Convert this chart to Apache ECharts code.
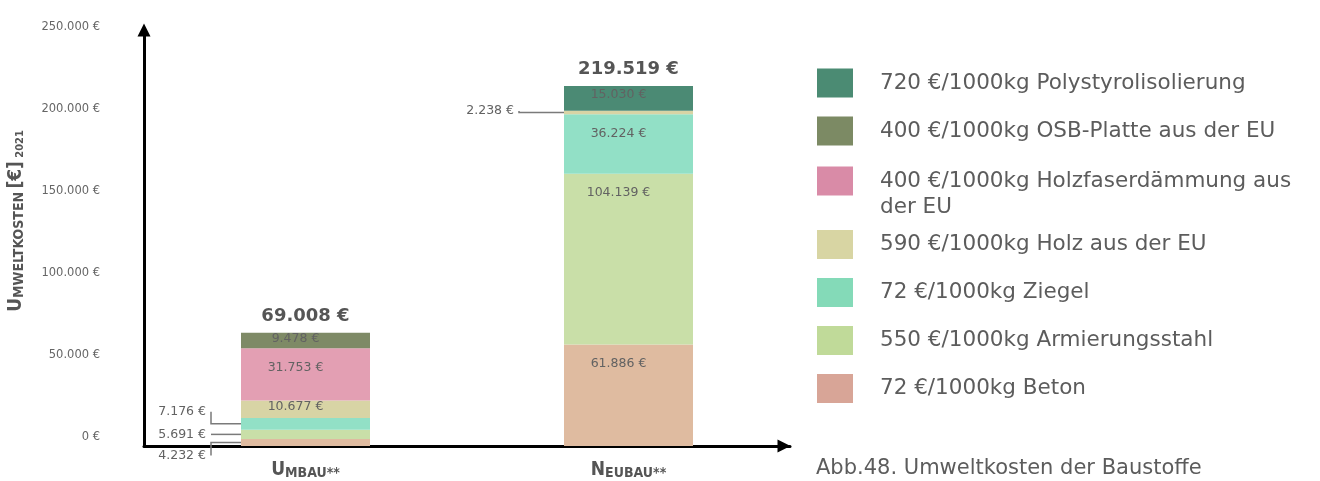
<!DOCTYPE html>
<html>
<head>
<meta charset="utf-8">
<script src="https://cdn.jsdelivr.net/npm/echarts@6/dist/echarts.min.js"></script>
<style>
  html, body { margin: 0; padding: 0; background: #ffffff; }
  #chart { width: 1320px; height: 481px; }
</style>
</head>
<body>
<div id="chart"></div>
<script>
// Building variants on the category axis
const categories = ['Umbau**', 'Neubau**'];

// Material series, stacked from the bottom up
const seriesNames = [
  '72 €/1000kg Beton',
  '550 €/1000kg Armierungsstahl',
  '72 €/1000kg Ziegel',
  '590 €/1000kg Holz aus der EU',
  '400 €/1000kg Holzfaserdämmung aus der EU',
  '400 €/1000kg OSB-Platte aus der EU',
  '720 €/1000kg Polystyrolisolierung'
];

// Environmental costs in € (Umbau, Neubau)
const beton = [4232, 61886];
const armierungsstahl = [5691, 104139];
const ziegel = [7176, 36224];
const holz = [10677, 2238];
const holzfaser = [31753, 0];
const osb = [9478, 0];
const polystyrol = [0, 15030];

// Printed totals above each column
const totals = [69008, 219519];

// Value axis range
const yMin = 0;
const yMax = 250000;
const yStep = 50000;

const legendColors = ['#d8a597', '#c0da99', '#84dab8', '#d8d5a3', '#d98ba7', '#7c8a64', '#4b8b73'];
const barColors = ['#dfbba0', '#c9dfa8', '#92e0c6', '#d8d4a5', '#e39fb3', '#7e8a66', '#4b8a74'];

const stackValues = [beton, armierungsstahl, ziegel, holz, holzfaser, osb, polystyrol];

const barWidth = 129;
const textFont = "'DejaVu Sans', sans-serif";
const capsFont = "'DejaVu Sans Condensed', 'Liberation Sans Narrow', 'DejaVu Sans', sans-serif";

// German thousands separator
function fmt(v) {
  return String(v).replace(/\B(?=(\d{3})+(?!\d))/g, '.') + ' €';
}

// Small segments get their value beside the column with a leader line
// key: seriesIndex-dataIndex, dy = label shift from segment centre, gap = leader length
const sideLabels = {
  '2-0': { dy: -12, gap: 30 },
  '1-0': { dy: 0, gap: 30 },
  '0-0': { dy: 13, gap: 30 },
  '3-1': { dy: -1.5, gap: 45 }
};

function layoutLabel(p) {
  const r = p.rect;
  const side = sideLabels[p.seriesIndex + '-' + p.dataIndex];
  if (side) {
    const cy = r.y + r.height / 2;
    return {
      x: r.x - side.gap - 5,
      y: cy + side.dy,
      align: 'right',
      verticalAlign: 'middle'
    };
  }
  const drop = r.height < 30 ? r.height * 0.36 : 19.5;
  return {
    x: r.x + r.width / 2 - 10,
    y: r.y + drop,
    align: 'center',
    verticalAlign: 'middle'
  };
}

const barSeries = stackValues.map((vals, si) => ({
  name: seriesNames[si],
  type: 'bar',
  stack: 'kosten',
  barWidth: barWidth,
  itemStyle: { color: legendColors[si] },
  emphasis: { disabled: true },
  label: {
    show: true,
    position: 'inside',
    formatter: p => (p.value ? fmt(p.value) : ''),
    fontSize: 12.5,
    color: '#626262',
    fontFamily: textFont
  },
  labelLayout: layoutLabel,
  data: vals.map(v => ({ value: v, itemStyle: { color: barColors[si] } }))
}));

// Leader lines: [category, segment bottom, segment top, dy, gap]
const leaderData = Object.keys(sideLabels).map(key => {
  const [si, di] = key.split('-').map(Number);
  let lo = 0;
  for (let k = 0; k < si; k++) lo += stackValues[k][di];
  return [di, lo, lo + stackValues[si][di], sideLabels[key].dy, sideLabels[key].gap];
});

const leaderSeries = {
  name: 'Hinweislinien',
  type: 'custom',
  silent: true,
  clip: false,
  encode: { x: 0, y: [1, 2] },
  data: leaderData,
  renderItem: (params, api) => {
    const cat = api.value(0);
    const pLo = api.coord([cat, api.value(1)]);
    const pHi = api.coord([cat, api.value(2)]);
    const dy = api.value(3);
    const gap = api.value(4);
    const cy = (pLo[1] + pHi[1]) / 2;
    const left = pLo[0] - barWidth / 2;
    return {
      type: 'polyline',
      shape: { points: [[left, cy], [left - gap, cy], [left - gap, cy + dy]] },
      style: { stroke: '#7a7a7a', lineWidth: 1.5, fill: null }
    };
  }
};

const totalSeries = {
  name: 'Gesamt',
  type: 'scatter',
  data: totals,
  symbolSize: 1,
  silent: true,
  itemStyle: { color: 'rgba(0,0,0,0)', opacity: 1 },
  label: {
    show: true,
    position: 'top',
    distance: 7,
    formatter: p => fmt(p.value),
    fontSize: 18,
    fontWeight: 'bold',
    color: '#555555',
    fontFamily: textFont
  },
  z: 5
};

const legendText = { fontSize: 21.5, color: '#5c5c5c', fontFamily: textFont, padding: [0, 0, 0, 22] };

const legendBase = {
  orient: 'vertical',
  left: 817,
  padding: 0,
  icon: 'rect',
  itemWidth: 36,
  itemHeight: 29,
  itemGap: 19,
  textStyle: legendText
};

const capsRich = {
  b: { fontSize: 19, fontWeight: 'bold', fontFamily: capsFont, color: '#555555', verticalAlign: 'bottom' },
  s: { fontSize: 14, fontWeight: 'bold', fontFamily: capsFont, color: '#555555', verticalAlign: 'bottom' },
  y: { fontSize: 11, fontWeight: 'bold', fontFamily: capsFont, color: '#555555', verticalAlign: 'bottom' }
};

const option = {
  animation: false,
  backgroundColor: '#ffffff',
  title: {
    text: 'Abb.48. Umweltkosten der Baustoffe',
    left: 816,
    top: 458,
    padding: 0,
    textStyle: { fontSize: 21, fontWeight: 'normal', color: '#5c5c5c', fontFamily: textFont }
  },
  legend: [
    Object.assign({}, legendBase, {
      top: 68.5,
      data: [seriesNames[6], seriesNames[5]]
    }),
    Object.assign({}, legendBase, {
      top: 166.5,
      // swatch sits in the upper part of a taller item so it lines up with the first text line
      icon: 'path://M0,0H36V29H0Z M0,55L36,55',
      itemHeight: 55,
      data: [seriesNames[4]],
      formatter: name => name.replace(' aus der EU', ' aus\nder EU'),
      textStyle: Object.assign({}, legendText, { lineHeight: 26 })
    }),
    Object.assign({}, legendBase, {
      top: 230,
      data: [seriesNames[3], seriesNames[2], seriesNames[1], seriesNames[0]]
    })
  ],
  grid: {
    left: 144,
    top: 36,
    width: 646,
    bottom: 35,
    containLabel: false,
    outerBoundsMode: 'none'
  },
  xAxis: {
    type: 'category',
    data: categories,
    axisTick: { show: false },
    axisLine: {
      show: true,
      lineStyle: { color: '#000000', width: 3 },
      symbol: ['none', 'triangle'],
      symbolSize: [13, 13],
      symbolOffset: [0, -6]
    },
    axisLabel: {
      margin: 15,
      formatter: v => '{b|' + v[0].toUpperCase() + '}{s|' + v.slice(1).toUpperCase() + '}',
      rich: capsRich
    }
  },
  yAxis: {
    type: 'value',
    min: yMin,
    max: yMax,
    interval: yStep,
    splitLine: { show: false },
    axisTick: { show: false },
    axisLine: {
      show: true,
      lineStyle: { color: '#000000', width: 3 },
      symbol: ['none', 'triangle'],
      symbolSize: [13, 13],
      symbolOffset: [0, 6]
    },
    axisLabel: {
      formatter: v => fmt(v),
      color: '#666666',
      fontSize: 11.5,
      margin: 44,
      verticalAlign: 'bottom',
      padding: [0, 0, 3, 0],
      fontFamily: textFont
    },
    name: '{b|U}{s|MWELTKOSTEN} {b|[€]} {y|2021}',
    nameLocation: 'middle',
    nameRotate: 90,
    nameGap: 118,
    nameTextStyle: {
      padding: [0, 0, 0, 40],
      rich: capsRich
    }
  },
  series: barSeries.concat([leaderSeries, totalSeries])
};

const chart = echarts.init(document.getElementById('chart'), null, { renderer: 'canvas' });
chart.setOption(option);
</script>
</body>
</html>
